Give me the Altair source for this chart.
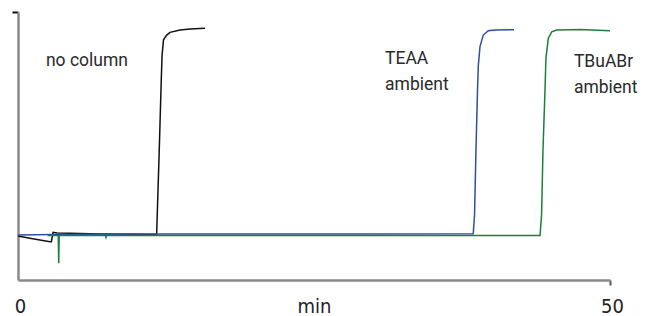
import altair as alt
import pandas as pd

series_names = ["no column", "TEAA ambient", "TBuABr ambient"]
series_colors = ["#111111", "#2e4fa3", "#1b7f3f"]

nocol_t = [0, 1.0, 2.7, 2.82, 2.96, 3.3, 4.4, 6.9, 11.71, 11.76, 11.93, 12.10, 12.17, 12.29, 12.56, 12.84, 13.68, 14.53, 15.79]
nocol_y = [16.4, 15.6, 14.3, 14.3, 17.8, 17.5, 17.4, 17.2, 17.0, 24.3, 48.5, 74.6, 84.0, 89.6, 91.4, 92.4, 93.3, 93.7, 93.9]

teaa_t = [0, 3, 10, 20, 30, 38.45, 38.56, 38.68, 38.81, 38.88, 39.02, 39.30, 39.72, 40.29, 41.89]
teaa_y = [16.8, 17.0, 17.2, 17.2, 17.2, 17.3, 24.3, 48.5, 70.9, 80.2, 87.1, 91.4, 93.0, 93.3, 93.4]

tbu_t = [2.5, 3.40, 3.44, 3.48, 7.38, 7.43, 7.48, 20, 44.09, 44.22, 44.34, 44.51, 44.59, 44.79, 45.08, 45.5, 47.47, 50.0]
tbu_y = [16.6, 16.6, 6.3, 16.6, 16.6, 15.9, 16.6, 16.6, 16.6, 24.3, 48.5, 70.9, 82.8, 90.2, 92.6, 93.3, 93.5, 93.0]

label_text = ["no column", "TEAA\nambient", "TBuABr\nambient"]
label_t = [2.36, 31.0, 46.95]
label_y = [79.9, 80.6, 79.5]

x_tick_values = [0, 50]
y_tick_values = [100]

axis_font = "DejaVu Sans Condensed, Roboto, sans-serif"

rows = []
for name, ts, ys in zip(series_names, [nocol_t, teaa_t, tbu_t], [nocol_y, teaa_y, tbu_y]):
    for i, (t, y) in enumerate(zip(ts, ys)):
        rows.append({"series": name, "t": t, "y": y, "i": i})
df = pd.DataFrame(rows)

labels_df = pd.DataFrame({"text": label_text, "t": label_t, "y": label_y})

x_scale = alt.Scale(domain=[0, 50], nice=False, zero=False)
y_scale = alt.Scale(domain=[0, 100], nice=False, zero=False)

lines = alt.Chart(df).mark_line(strokeWidth=1.5, clip=False).encode(
    x=alt.X("t:Q", scale=x_scale, axis=alt.Axis(
        values=x_tick_values, title="min", grid=False,
        domainColor="#888888", domainWidth=2.5,
        tickColor="#555555", tickWidth=2, tickSize=5,
        tickOpacity=alt.expr("datum.value == 0 ? 0 : 1"),
        labelFont=axis_font, labelFontSize=20, labelColor="#222222",
        labelPadding=11, labelFlush=False, labelOffset=2,
        titleFont=axis_font, titleFontSize=20, titleFontWeight="normal",
        titleColor="#222222", titleBaseline="alphabetic", titleY=32,
    )),
    y=alt.Y("y:Q", scale=y_scale, axis=alt.Axis(
        values=y_tick_values, title=None, labels=False, grid=False,
        domainColor="#888888", domainWidth=2.5,
        tickColor="#111111", tickWidth=2, tickSize=6,
    )),
    color=alt.Color("series:N", scale=alt.Scale(domain=series_names, range=series_colors), legend=None),
    order="i:Q",
)

texts = alt.Chart(labels_df).mark_text(
    align="left", baseline="alphabetic", font="Roboto", fontSize=17.5,
    color="#2a2a2a", lineBreak="\n", lineHeight=26,
).encode(
    x=alt.X("t:Q", scale=x_scale),
    y=alt.Y("y:Q", scale=y_scale),
    text="text:N",
)

chart = alt.layer(lines, texts).properties(
    width=592, height=268,
    autosize=alt.AutoSizeParams(type="none"),
    padding={"left": 10, "top": 4, "right": 30, "bottom": 36},
).configure_view(stroke=None)

chart.save("out.html", embed_options={"renderer": "svg", "actions": False})
